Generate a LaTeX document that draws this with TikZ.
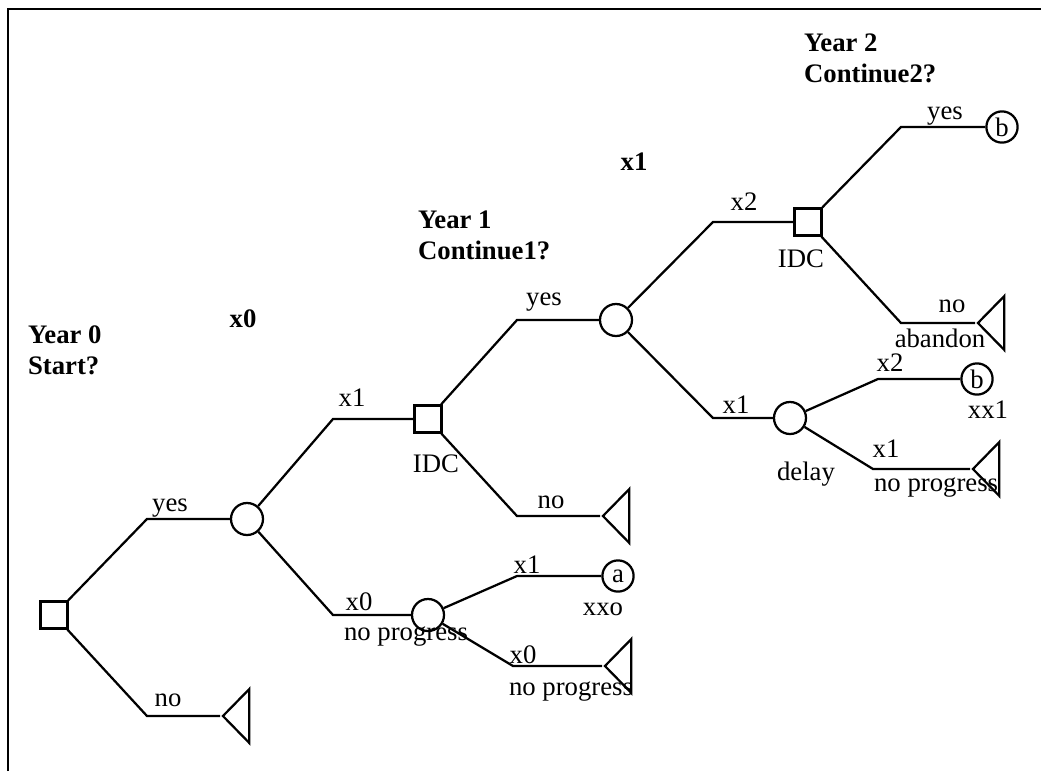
\documentclass[tikz,border=0pt]{standalone}
\usepackage{fontspec}
\setmainfont{Liberation Serif}
\usetikzlibrary{shapes.geometric}

\tikzset{
  decision/.style={draw, rectangle, minimum size=0.68cm, inner sep=0pt},
  chance/.style={draw, circle, minimum size=0.8cm, inner sep=0pt},
  payoff/.style={draw, circle, minimum size=0.78cm, inner sep=0pt},
  leaf/.style={draw, isosceles triangle, isosceles triangle stretches,
    shape border rotate=180, minimum width=1.35cm, minimum height=0.66cm,
    inner sep=0pt, anchor=apex},
  lbl/.style={anchor=base, inner sep=0pt},
  hdr/.style={anchor=base west, align=left, inner sep=0pt,
    font=\fontsize{19}{22}\selectfont\bfseries},
}

\begin{document}
\begin{tikzpicture}[x=0.025cm, y=-0.025cm, line width=1.6pt, font=\fontsize{19}{22}\selectfont]
    \useasboundingbox (0,0) rectangle (1041,771);
    \draw[line width=2pt] (8,771) -- (8,9) -- (1041,9);

    % year 0
    \node[decision] (d_0) at (54,615) {};
    \node[chance] (c_1) at (247,519) {};
    \node[leaf] (t_0) at (220,716) {};
    \coordinate (e_0y) at (147,519);
    \coordinate (e_0n) at (147,716);
    \draw (d_0) -- (e_0y) -- (c_1);
    \draw (d_0) -- (e_0n) -- (t_0.apex);
    \node[lbl] (l_0y) at (170,511) {yes};
    \node[lbl] (l_0n) at (168,706) {no};
    \node[hdr] (h_0) at (27,374) {Year 0\\Start?};
    \node[lbl, font=\fontsize{19}{22}\selectfont\bfseries] (h_x0) at (243,327) {x0};

    % year 1
    \node[decision] (d_1) at (428,419) {};
    \node[chance] (c_4) at (428,615) {};
    \coordinate (e_1u) at (333,419);
    \coordinate (e_1d) at (333,615);
    \draw (c_1) -- (e_1u) -- (d_1);
    \draw (c_1) -- (e_1d) -- (c_4);
    \node[lbl] (l_1u) at (352,406) {x1};
    \node[lbl] (l_1d) at (359,610) {x0};
    \node[lbl] (l_1np) at (406,640) {no progress};
    \node[lbl] (l_idc1) at (436,472) {IDC};
    \node[hdr] (h_1) at (417,259) {Year 1\\Continue1?};
    \node[lbl, font=\fontsize{19}{22}\selectfont\bfseries] (h_x1) at (634,170) {x1};

    \node[chance] (c_2) at (616,320) {};
    \node[leaf] (t_1) at (600,516) {};
    \coordinate (e_2y) at (517,320);
    \coordinate (e_2n) at (517,516);
    \draw (d_1) -- (e_2y) -- (c_2);
    \draw (d_1) -- (e_2n) -- (t_1.apex);
    \node[lbl] (l_2y) at (544,305) {yes};
    \node[lbl] (l_2n) at (551,508) {no};

    \node[payoff] (p_a) at (618,576) {a};
    \node[leaf] (t_4) at (602,666) {};
    \coordinate (e_4u) at (517,576);
    \coordinate (e_4d) at (513,666);
    \draw (c_4) -- (e_4u) -- (p_a);
    \draw (c_4) -- (e_4d) -- (t_4.apex);
    \node[lbl] (l_4u) at (527,573) {x1};
    \node[lbl] (l_xxo) at (603,615) {xxo};
    \node[lbl] (l_4d) at (523,663) {x0};
    \node[lbl] (l_4np) at (571,695) {no progress};

    % year 2
    \node[decision] (d_2) at (808,222) {};
    \node[chance] (c_3) at (790,418) {};
    \coordinate (e_3u) at (713,222);
    \coordinate (e_3d) at (713,418);
    \draw (c_2) -- (e_3u) -- (d_2);
    \draw (c_2) -- (e_3d) -- (c_3);
    \node[lbl] (l_3u) at (744,210) {x2};
    \node[lbl] (l_idc2) at (801,267) {IDC};
    \node[lbl] (l_3d) at (736,413) {x1};
    \node[lbl] (l_delay) at (806,480) {delay};
    \node[hdr] (h_2) at (803,82) {Year 2\\Continue2?};

    \node[payoff] (p_b1) at (1002,127) {b};
    \node[leaf] (t_2) at (975,323) {};
    \coordinate (e_5y) at (901,127);
    \coordinate (e_5n) at (901,323);
    \draw (d_2) -- (e_5y) -- (p_b1);
    \draw (d_2) -- (e_5n) -- (t_2.apex);
    \node[lbl] (l_5y) at (945,119) {yes};
    \node[lbl] (l_5n) at (952,312) {no};
    \node[lbl] (l_aband) at (940,347) {abandon};

    \node[payoff] (p_b2) at (977,379) {b};
    \node[leaf] (t_3) at (970,469) {};
    \coordinate (e_6u) at (878,379);
    \coordinate (e_6d) at (873,469);
    \draw (c_3) -- (e_6u) -- (p_b2);
    \draw (c_3) -- (e_6d) -- (t_3.apex);
    \node[lbl] (l_6u) at (890,371) {x2};
    \node[lbl] (l_xx1) at (988,418) {xx1};
    \node[lbl] (l_6d) at (886,457) {x1};
    \begin{scope}
      \clip (860,470) rectangle (997,505);
      \node[lbl, anchor=base west] (l_6np) at (873,491) {no progress};
    \end{scope}
\end{tikzpicture}
\end{document}
